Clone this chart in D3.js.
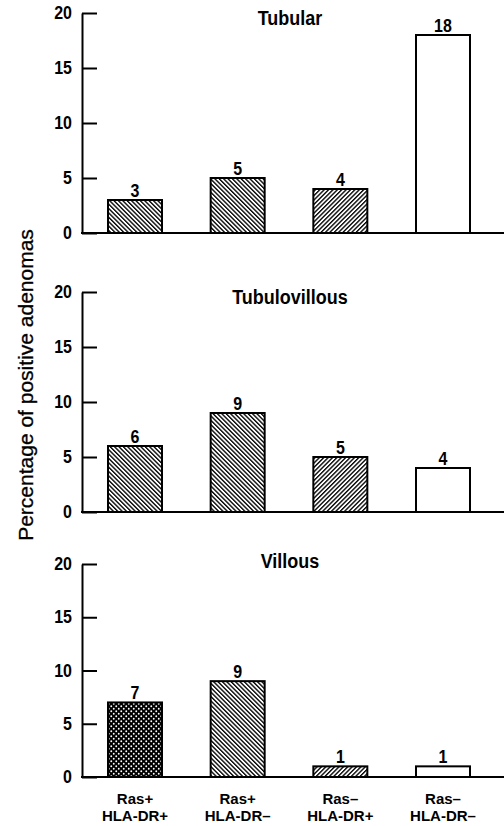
<!DOCTYPE html>
<html><head><meta charset="utf-8">
<script src="https://cdn.jsdelivr.net/npm/d3@7/dist/d3.min.js"></script>
<style>
body{margin:0;background:#fff}
svg{display:block}
text{font-family:"Liberation Sans",Arial,Helvetica,sans-serif;fill:#000}
</style>
</head><body>
<svg id="chart" width="504" height="826"></svg>
<script>
// ---- data ----
const categories = ["Ras+\nHLA-DR+", "Ras+\nHLA-DR–", "Ras–\nHLA-DR+", "Ras–\nHLA-DR–"];
const panelTitles = ["Tubular", "Tubulovillous", "Villous"];
const tubular = [3, 5, 4, 18];
const tubulovillous = [6, 9, 5, 4];
const villous = [7, 9, 1, 1];
const yTicks = [0, 5, 10, 15, 20];
const yLabel = "Percentage of positive adenomas";

// ---- layout / style ----
const seriesList = [tubular, tubulovillous, villous];
const panelLayout = [
  {top: 13, bottom: 233, titleY: 25},
  {top: 292, bottom: 512, titleY: 304},
  {top: 564, bottom: 777, titleY: 568}
];
const fillStyle = [
  ["back", "back", "fwd", "none"],
  ["back", "back", "fwd", "none"],
  ["dots", "back", "fwd", "none"]
];
const axisX = 82, rightEdge = 504, barW = 54, vStretch = 1.12;

const svg = d3.select("#chart");
const defs = svg.append("defs");

function hatch(id, angle) {
  const p = defs.append("pattern").attr("id", id)
    .attr("patternUnits", "userSpaceOnUse")
    .attr("width", 3.1).attr("height", 10)
    .attr("patternTransform", `rotate(${angle})`);
  p.append("rect").attr("width", 3.1).attr("height", 10).attr("fill", "#fff");
  p.append("line").attr("x1", 0.7).attr("x2", 0.7).attr("y1", 0).attr("y2", 10)
    .attr("stroke", "#000").attr("stroke-width", 1.35);
}
hatch("back", -45);
hatch("fwd", 45);
const dp = defs.append("pattern").attr("id", "dots")
  .attr("patternUnits", "userSpaceOnUse").attr("width", 5).attr("height", 5);
dp.append("rect").attr("width", 5).attr("height", 5).attr("fill", "#000");
dp.append("circle").attr("cx", 1.25).attr("cy", 1.25).attr("r", 0.95).attr("fill", "#fff");
dp.append("circle").attr("cx", 3.75).attr("cy", 3.75).attr("r", 0.95).attr("fill", "#fff");

const x = d3.scalePoint().domain(categories).range([135, 443]);

function label(parent, tx, ty, str, size, weight) {
  return parent.append("text")
    .attr("transform", `translate(${tx},${ty}) scale(1,${vStretch})`)
    .attr("text-anchor", "middle").attr("font-size", size)
    .attr("font-weight", weight).text(str);
}

seriesList.forEach((vals, pi) => {
  const L = panelLayout[pi];
  const y = d3.scaleLinear().domain([0, 20]).range([L.bottom, L.top]);
  const g = svg.append("g");

  // bars
  g.selectAll("rect.bar").data(vals).join("rect").attr("class", "bar")
    .attr("x", (d, i) => x(categories[i]) - barW / 2)
    .attr("width", barW)
    .attr("y", d => y(d))
    .attr("height", d => y(0) - y(d))
    .attr("fill", (d, i) => fillStyle[pi][i] === "none" ? "#fff" : `url(#${fillStyle[pi][i]})`)
    .attr("stroke", "#000").attr("stroke-width", 2);

  // value labels
  vals.forEach((d, i) => label(g, x(categories[i]), y(d) - 3, d, 16, "bold"));

  // y axis
  const ax = g.append("g").attr("transform", `translate(${axisX},0)`)
    .call(d3.axisLeft(y).tickValues(yTicks).tickSizeInner(-15).tickSizeOuter(0).tickPadding(10));
  ax.attr("font-family", null).attr("font-size", null);
  ax.select(".domain").attr("stroke", "#000").attr("stroke-width", 2);
  ax.selectAll(".tick line").attr("stroke", "#000").attr("stroke-width", 2);
  ax.selectAll(".tick text").attr("font-size", 16).attr("font-weight", "bold")
    .attr("fill", "#000").attr("transform", `scale(1,${vStretch})`);

  // baseline
  g.append("line").attr("x1", axisX - 1).attr("x2", rightEdge)
    .attr("y1", y(0)).attr("y2", y(0))
    .attr("stroke", "#000").attr("stroke-width", 2);

  // title
  label(g, 290, L.titleY, panelTitles[pi], 18, "bold");
});

// x labels (bottom panel)
categories.forEach(c => {
  const lines = c.split("\n");
  svg.append("text").attr("x", x(c)).attr("y", 804)
    .attr("text-anchor", "middle").attr("font-size", 15).attr("font-weight", "bold")
    .text(lines[0]);
  svg.append("text").attr("x", x(c)).attr("y", 821)
    .attr("text-anchor", "middle").attr("font-size", 15).attr("font-weight", "bold")
    .text(lines[1]);
});

// y label
svg.append("text")
  .attr("transform", "translate(33,385) rotate(-90)")
  .attr("text-anchor", "middle").attr("font-size", 21)
  .attr("stroke", "#000").attr("stroke-width", 0.3)
  .text(yLabel);
</script>
</body></html>
